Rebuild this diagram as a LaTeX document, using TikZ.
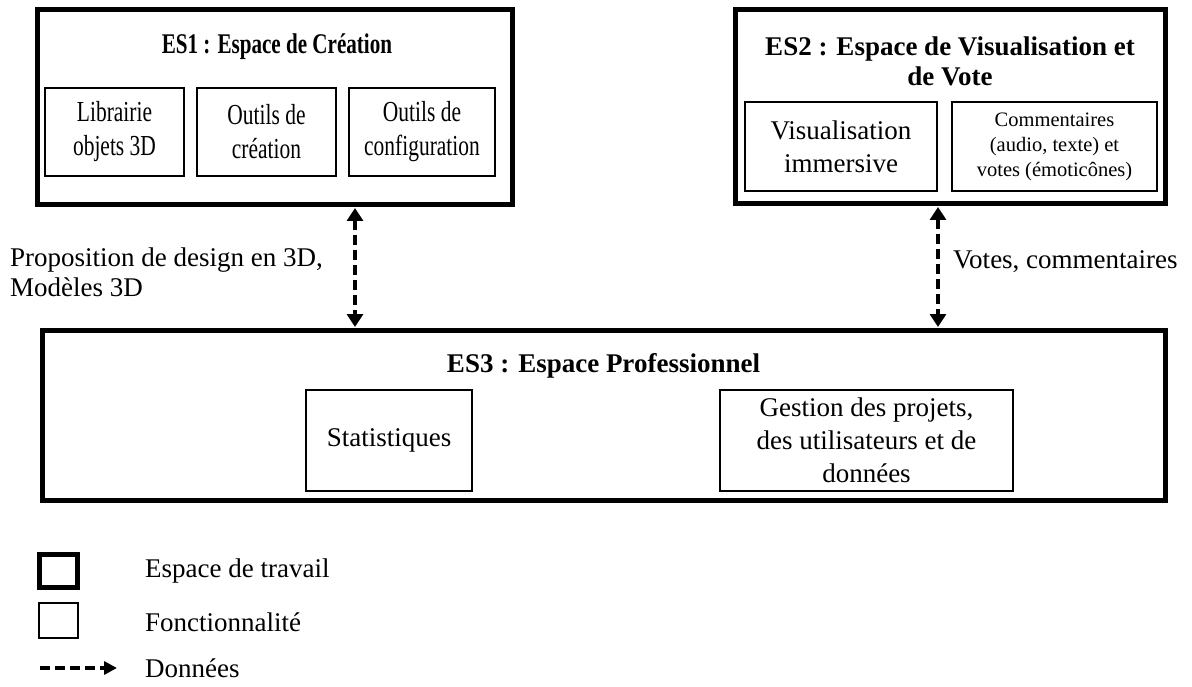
\documentclass[tikz,border=0pt]{standalone}
\usepackage{fontspec}
\setmainfont{Liberation Serif}
\newfontfamily\narrowfont{Liberation Serif}[FakeStretch=0.74]
\usetikzlibrary{arrows.meta}
\begin{document}
\begin{tikzpicture}[x=1pt,y=-1pt,
  ws/.style={draw, line width=5pt, inner sep=0pt},
  fn/.style={draw, line width=1.3pt, inner sep=0pt, align=center, font=\fontsize{27}{33}\selectfont},
  narrow/.style={font=\narrowfont\fontsize{29}{34}\selectfont},
  ttl/.style={font=\bfseries\fontsize{27}{30}\selectfont, align=center, inner sep=0pt},
  lbl/.style={font=\fontsize{27}{30}\selectfont, align=left, inner sep=0pt},
  data/.style={line width=3.2pt, dash pattern=on 10pt off 5pt},
  tip/.style={arrows={Triangle[width=16pt,length=13pt]-Triangle[width=16pt,length=13pt]}},
  rtip/.style={arrows={-Triangle[width=13pt,length=13pt]}}]
\useasboundingbox (0,0) rectangle (1192,687);
% workspaces
\node[ws, minimum width=475pt, minimum height=195pt] (es1) at (274.5,107.5) {};
\node[ws, minimum width=430pt, minimum height=194pt] (es2) at (950,107) {};
\node[ws, minimum width=1123pt, minimum height=170pt] (es3) at (603.5,415) {};
% titles
\node[ttl, font=\narrowfont\bfseries\fontsize{28.5}{30}\selectfont] (es1t) at (277,47) {ES1 : Espace de Création};
\node[ttl] (es2t) at (950,61) {ES2 : Espace de Visualisation et\\de Vote};
\node[ttl] (es3t) at (603.5,366) {ES3 : Espace Professionnel};
% ES1 features
\node[fn, narrow, minimum width=139pt, minimum height=88pt] (lib) at (114.5,132) {Librairie\\objets 3D};
\node[fn, narrow, minimum width=139pt, minimum height=88pt] (cre) at (266.5,132) {Outils de\\création};
\node[fn, narrow, minimum width=146pt, minimum height=88pt] (cfg) at (422,132) {Outils de\\configuration};
% ES2 features
\node[fn, minimum width=192pt, minimum height=89pt] (vis) at (841,146.5) {Visualisation\\immersive};
\node[fn, minimum width=205pt, minimum height=89pt, font=\fontsize{20.5}{25}\selectfont] (com) at (1054.5,146.5) {Commentaires\\(audio, texte) et\\votes (émoticônes)};
% ES3 features
\node[fn, minimum width=166pt, minimum height=101pt] (sta) at (389,440.5) {Statistiques};
\node[fn, minimum width=293pt, minimum height=101pt] (ges) at (866.5,440.5) {Gestion des projets,\\des utilisateurs et de\\données};
% data flows
\coordinate (ax1) at (355,0);
\coordinate (ax2) at (938,0);
\draw[data, tip, shorten <=0.5pt, shorten >=0.5pt] (es1.south -| ax1) -- (es3.north -| ax1);
\draw[data, tip, shorten <=0.5pt, shorten >=0.5pt] (es2.south -| ax2) -- (es3.north -| ax2);
\node[lbl, anchor=west] (l1) at (10,272) {Proposition de design en 3D,\\Modèles 3D};
\node[lbl, anchor=west] (l2) at (953,262) {Votes, commentaires};
% legend
\node[ws, minimum width=38pt, minimum height=33pt] (lgws) at (58.5,571) {};
\node[fn, minimum width=39pt, minimum height=35pt] (lgfn) at (58.5,620.5) {};
\coordinate (lga) at (40,668);
\coordinate (lgb) at (117,668);
\draw[data, line width=4pt, dash pattern=on 10pt off 5pt, rtip] (lga) -- (lgb);
\node[lbl, anchor=west] (t1) at (145,571) {Espace de travail};
\node[lbl, anchor=west] (t2) at (145,622) {Fonctionnalité};
\node[lbl, anchor=west] (t3) at (145,668) {Données};
\end{tikzpicture}
\end{document}
